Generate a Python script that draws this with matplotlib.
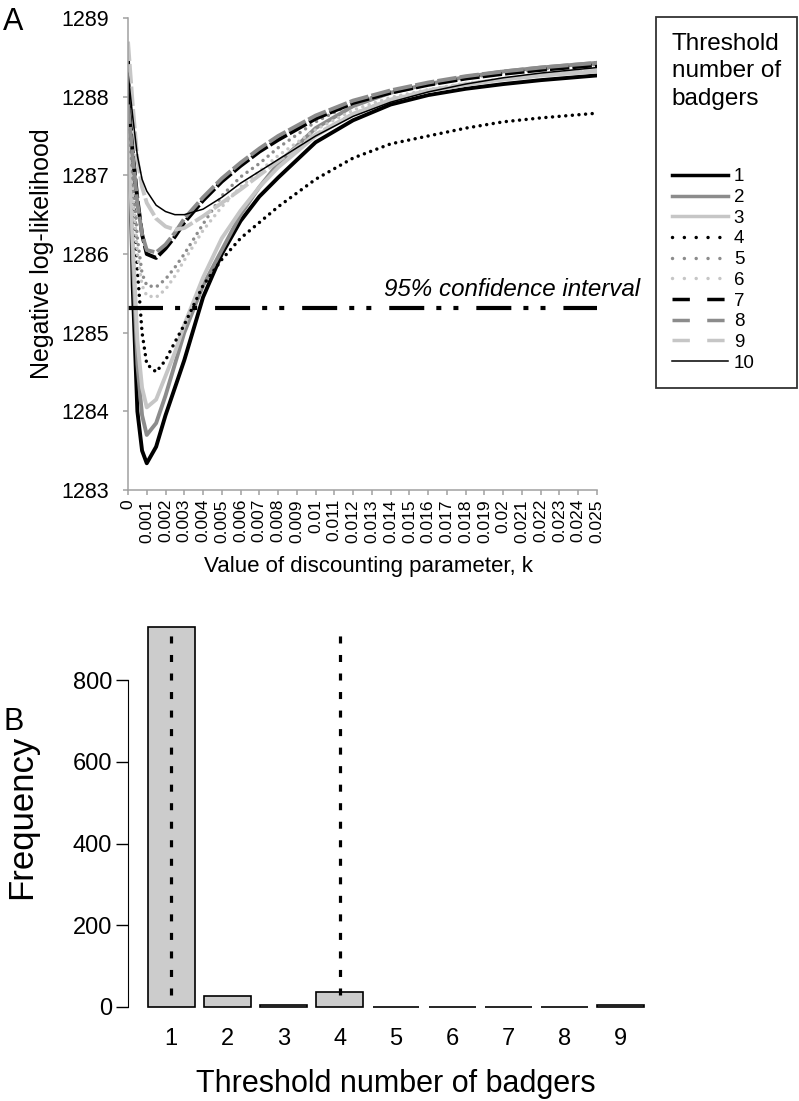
import matplotlib
matplotlib.use('Agg')
import matplotlib.pyplot as plt
from matplotlib.lines import Line2D

plt.rcParams['font.family'] = ['Liberation Sans', 'DejaVu Sans']

# ---- panel A data: negative log-likelihood vs discounting parameter k ----
k = [0, 0.00025, 0.0005, 0.00075, 0.001, 0.0015, 0.002, 0.0025, 0.003, 0.004,
     0.005, 0.006, 0.007, 0.008, 0.01, 0.012, 0.014, 0.016, 0.018, 0.02, 0.022, 0.025]

nll_1 = [1288.5, 1285.6, 1284.0, 1283.5, 1283.34, 1283.55, 1283.95, 1284.3, 1284.65, 1285.45,
         1286.0, 1286.42, 1286.73, 1286.97, 1287.42, 1287.7, 1287.9, 1288.02, 1288.1, 1288.16, 1288.21, 1288.27]
nll_2 = [1288.0, 1286.0, 1284.6, 1283.95, 1283.7, 1283.85, 1284.2, 1284.6, 1285.0, 1285.6,
         1286.05, 1286.5, 1286.85, 1287.15, 1287.6, 1287.88, 1288.05, 1288.16, 1288.25, 1288.32, 1288.37, 1288.43]
nll_3 = [1287.6, 1286.2, 1284.9, 1284.3, 1284.05, 1284.15, 1284.45, 1284.75, 1285.1, 1285.7,
         1286.2, 1286.55, 1286.85, 1287.1, 1287.5, 1287.78, 1287.96, 1288.07, 1288.15, 1288.22, 1288.27, 1288.32]
nll_4 = [1288.0, 1287.0, 1285.8, 1285.0, 1284.6, 1284.5, 1284.65, 1284.88, 1285.1, 1285.6,
         1285.93, 1286.2, 1286.4, 1286.6, 1286.95, 1287.22, 1287.4, 1287.5, 1287.6, 1287.68, 1287.73, 1287.79]
nll_5 = [1287.8, 1287.0, 1286.2, 1285.75, 1285.6, 1285.58, 1285.68, 1285.83, 1286.0, 1286.38,
         1286.74, 1286.98, 1287.15, 1287.35, 1287.68, 1287.92, 1288.06, 1288.16, 1288.24, 1288.3, 1288.35, 1288.41]
nll_6 = [1287.5, 1286.8, 1286.0, 1285.6, 1285.47, 1285.45, 1285.55, 1285.72, 1285.92, 1286.3,
         1286.6, 1286.85, 1287.05, 1287.25, 1287.58, 1287.83, 1287.99, 1288.09, 1288.17, 1288.23, 1288.28, 1288.33]
nll_7 = [1288.1, 1287.3, 1286.7, 1286.25, 1286.0, 1285.95, 1286.07, 1286.22, 1286.4, 1286.68,
         1286.92, 1287.12, 1287.3, 1287.45, 1287.72, 1287.92, 1288.05, 1288.15, 1288.23, 1288.29, 1288.34, 1288.4]
nll_8 = [1287.9, 1287.25, 1286.65, 1286.25, 1286.05, 1286.02, 1286.12, 1286.27, 1286.45, 1286.72,
         1286.96, 1287.16, 1287.34, 1287.5, 1287.76, 1287.95, 1288.08, 1288.18, 1288.26, 1288.32, 1288.37, 1288.43]
nll_9 = [1288.7, 1287.9, 1287.2, 1286.85, 1286.65, 1286.45, 1286.35, 1286.31, 1286.33, 1286.48,
         1286.65, 1286.82, 1287.0, 1287.18, 1287.52, 1287.78, 1287.96, 1288.08, 1288.16, 1288.22, 1288.27, 1288.33]
nll_10 = [1288.3, 1287.75, 1287.25, 1286.95, 1286.8, 1286.62, 1286.54, 1286.5, 1286.5, 1286.57,
          1286.72, 1286.9, 1287.05, 1287.2, 1287.5, 1287.75, 1287.93, 1288.06, 1288.16, 1288.24, 1288.3, 1288.37]

ci_level = 1285.31
thresholds = ['1', '2', '3', '4', '5', '6', '7', '8', '9', '10']

k_ticks = [i / 1000 for i in range(26)]
k_labels = ['0', '0.001', '0.002', '0.003', '0.004', '0.005', '0.006', '0.007', '0.008', '0.009',
            '0.01', '0.011', '0.012', '0.013', '0.014', '0.015', '0.016', '0.017', '0.018', '0.019',
            '0.02', '0.021', '0.022', '0.023', '0.024', '0.025']

# ---- panel B data: frequency of best threshold ----
thr_labels = ['1', '2', '3', '4', '5', '6', '7', '8', '9']
freq = [930, 28, 4, 36, 1, 1, 1, 1, 4]
marked = ['1', '4']          # thresholds with dotted reference lines
marked_range = (30, 920)

# ---- styles ----
black, grey, light = 'black', '#8c8c8c', '#c6c6c6'
dot = (0, (0.01, 1.9))
dash_plot = (0, (5, 0.8))
styles = [
    dict(color=black, lw=2.8, ls='-'),
    dict(color=grey, lw=2.8, ls='-'),
    dict(color=light, lw=2.8, ls='-'),
    dict(color=black, lw=2.5, ls=dot, dash_capstyle='round'),
    dict(color=grey, lw=2.5, ls=dot, dash_capstyle='round'),
    dict(color=light, lw=2.5, ls=dot, dash_capstyle='round'),
    dict(color=black, lw=2.8, ls=dash_plot),
    dict(color=grey, lw=2.8, ls=dash_plot),
    dict(color=light, lw=2.8, ls=dash_plot),
    dict(color=black, lw=1.1, ls='-'),
]
legend_ls = ['-', '-', '-', (0, (0.01, 3.4)), (0, (0.01, 3.4)), (0, (0.01, 3.4)),
             (0, (5, 5)), (0, (5, 5)), (0, (5, 5)), '-']

W, H = 799, 1101
fig = plt.figure(figsize=(W / 100, H / 100), dpi=100)

# ================= panel A =================
ax = fig.add_axes([128 / W, 1 - 490 / H, 469 / W, 472 / H])
curves = [nll_1, nll_2, nll_3, nll_4, nll_5, nll_6, nll_7, nll_8, nll_9, nll_10]
for vals, st in zip(curves, styles):
    ax.plot(k, vals, color=st['color'], lw=st['lw'], ls=st['ls'],
            dash_capstyle=st.get('dash_capstyle', 'butt'), solid_capstyle='round')

ax.hlines(ci_level, k[0], k[-1], color='black', lw=3,
          linestyles=[(0, (8.4, 2.9, 1.2, 2.9, 1.2, 4.3))])
ax.text(1.092, 0.411, '95% confidence interval', transform=ax.transAxes,
        ha='right', va='baseline', fontsize=17.4, style='italic', clip_on=False)

ax.set_xlim(0, 0.025)
ax.set_ylim(1283, 1289)
ax.set_xticks(k_ticks)
ax.set_xticklabels(k_labels, rotation=90, fontsize=12.5)
ax.set_yticks([1283, 1284, 1285, 1286, 1287, 1288, 1289])
ax.tick_params(direction='out', color='#a0a0a0', length=3.5, width=1.1, pad=3)
ax.tick_params(axis='y', labelsize=15.5, pad=10)
for s in ['top', 'right']:
    ax.spines[s].set_visible(False)
for s in ['left', 'bottom']:
    ax.spines[s].set_color('#a0a0a0')
    ax.spines[s].set_linewidth(1.1)
ax.set_ylabel('Negative log-likelihood', fontsize=18)
ax.yaxis.set_label_coords(-0.158, 0.5)
ax.set_xlabel('Value of discounting parameter, k', fontsize=16)
ax.xaxis.set_label_coords(0.512, -0.14)

handles = [Line2D([], [], color=st['color'], lw=(1.1 if i == 9 else 2.5), ls=ls,
                  dash_capstyle=('round' if i in (3, 4, 5) else 'butt'))
           for i, (st, ls) in enumerate(zip(styles, legend_ls))]
leg = fig.legend(handles, thresholds, loc='upper right',
                 bbox_to_anchor=(797 / W, 1 - 17 / H), borderaxespad=0,
                 title='Threshold\nnumber of\nbadgers\n\n', title_fontsize=17.5,
                 fontsize=13.5, labelspacing=0.19, handlelength=3.0, handletextpad=0.3,
                 borderpad=0.85, alignment='left', frameon=True, fancybox=False)
leg.get_frame().set_edgecolor('black')
leg.get_frame().set_linewidth(1.3)
leg.get_title().set_linespacing(1.32)

fig.text(3 / W, 1 - 30 / H, 'A', fontsize=22, va='baseline')

# ================= panel B =================
axb = fig.add_axes([128 / W, 1 - 1022.2 / H, 536 / W, 410.5 / H])
pos = [0.7 + 1.2 * i for i in range(len(thr_labels))]
axb.bar(pos, freq, width=1, color='#cccccc', edgecolor='black', linewidth=1.2)
for lab in marked:
    x = pos[thr_labels.index(lab)]
    axb.vlines(x, marked_range[0], marked_range[1], color='black', lw=2.3,
               linestyles=[(0, (2.2, 3.6))])
axb.set_xlim(-0.224, 11.224)
axb.set_ylim(-37.2, 967.2)
axb.set_xticks(pos)
axb.set_xticklabels(thr_labels, fontsize=17)
axb.tick_params(axis='x', length=0, pad=4)
axb.set_yticks([0, 200, 400, 600, 800])
axb.tick_params(axis='y', labelsize=17, length=8.6, width=1, pad=3)
for s in ['top', 'right', 'bottom']:
    axb.spines[s].set_visible(False)
axb.spines['left'].set_bounds(0, 800)
axb.set_ylabel('Frequency', fontsize=25)
axb.yaxis.set_label_coords(-0.168, 0.5)
axb.set_xlabel('Threshold number of badgers', fontsize=22, labelpad=14)

fig.text(3 / W, 1 - 730 / H, 'B', fontsize=22, va='baseline')

fig.savefig('out.png', dpi=100)
